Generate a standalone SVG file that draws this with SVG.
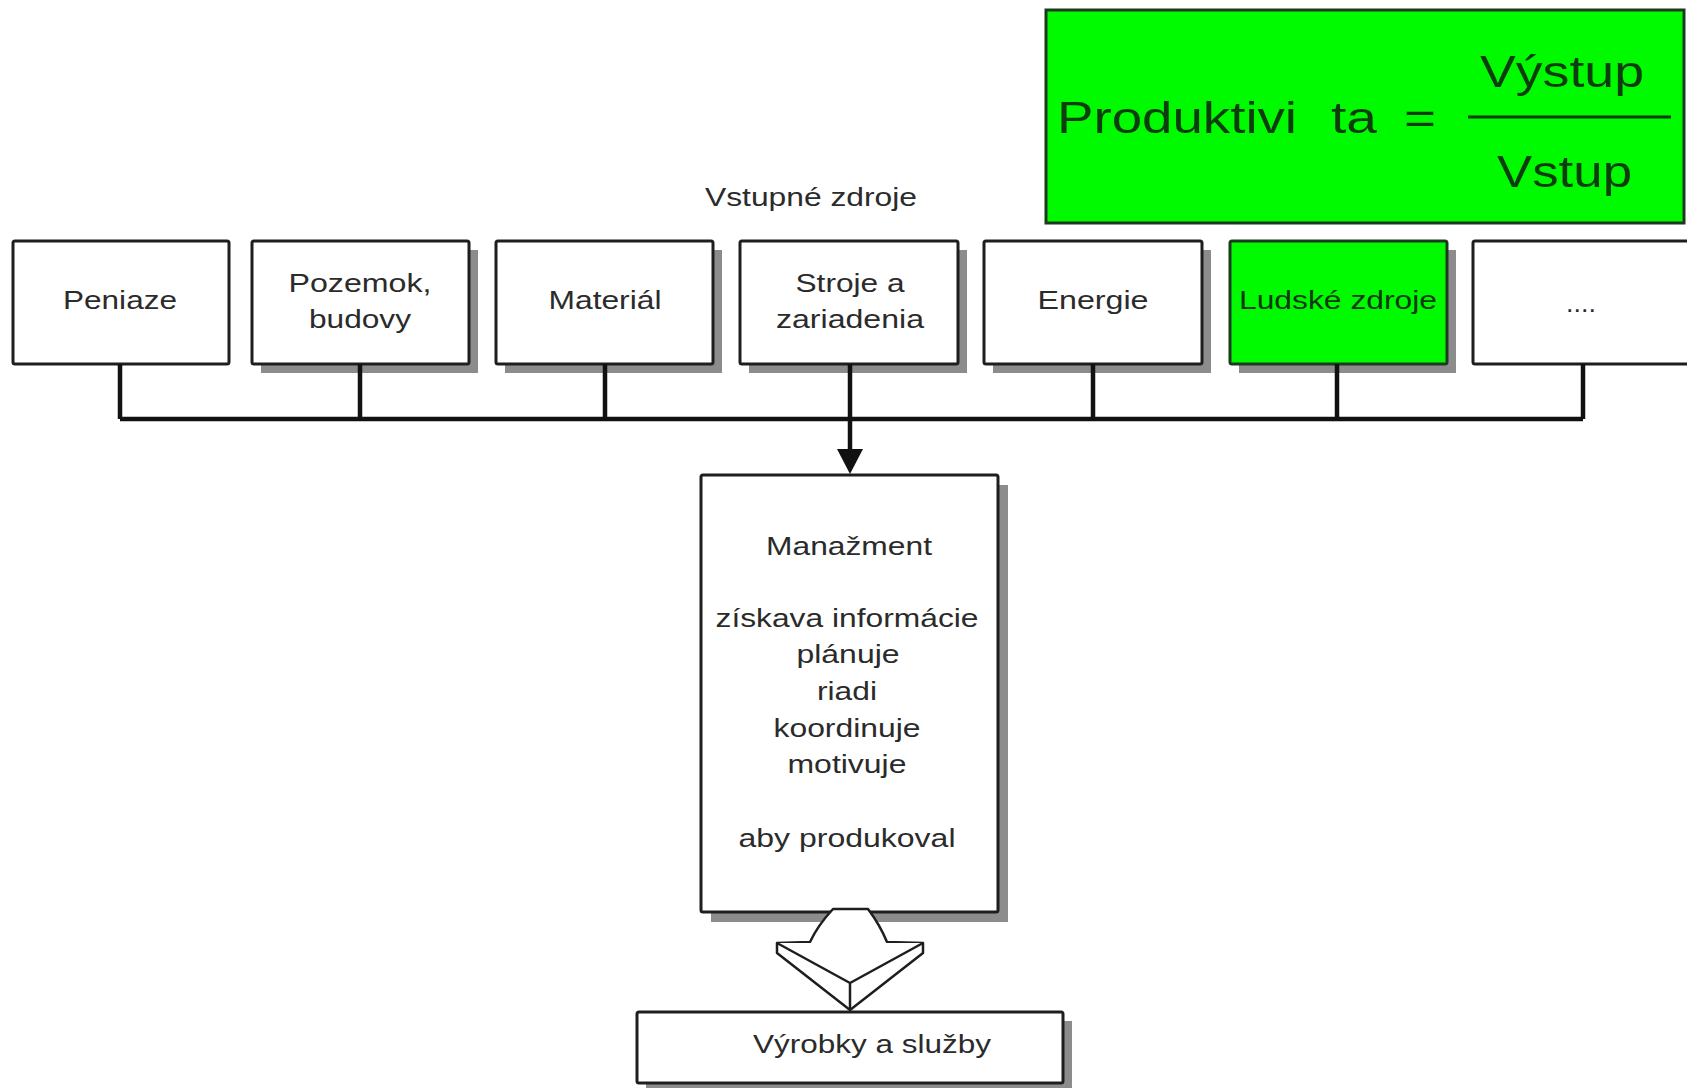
<svg xmlns="http://www.w3.org/2000/svg" width="1687" height="1088" viewBox="0 0 1687 1088">
  <style>
    .box { fill: #ffffff; stroke: #1e1e1e; stroke-width: 3; }
    .green { fill: #00fa00; stroke: #1e3a1e; stroke-width: 3; }
    .shadow { fill: #8c8c8c; }
    .lbl { font-family: "Liberation Sans", Arial, sans-serif; font-size: 26px; fill: #2b2b2b; text-anchor: middle; }
    .lbl-g { font-family: "Liberation Sans", Arial, sans-serif; font-size: 26px; fill: #123812; text-anchor: middle; }
    .formula { font-family: "Liberation Sans", Arial, sans-serif; font-size: 45px; fill: #0d3d0d; }
    .wire { fill: none; stroke: #111111; stroke-width: 4.5; }
    .block { fill: #ffffff; stroke: #1e1e1e; stroke-width: 2.5; stroke-linejoin: round; }
  </style>
  <defs>
    <marker id="ah" markerUnits="userSpaceOnUse" markerWidth="26" markerHeight="26" refX="13" refY="13" orient="auto">
      <path d="M0,0 L25,13 L0,26 Z" fill="#111111"/>
    </marker>
  </defs>

  <rect width="1687" height="1088" fill="#ffffff"/>

  <!-- productivity formula -->
  <g id="formula">
    <rect class="green" x="1046" y="10" width="638" height="213"/>
    <text class="formula" x="1057" y="133" textLength="240" lengthAdjust="spacingAndGlyphs">Produktivi</text>
    <text class="formula" x="1331" y="133" textLength="46" lengthAdjust="spacingAndGlyphs">ta</text>
    <text class="formula" x="1404" y="133" textLength="32" lengthAdjust="spacingAndGlyphs">=</text>
    <text class="formula" x="1480" y="87" textLength="164" lengthAdjust="spacingAndGlyphs">Výstup</text>
    <line x1="1468" y1="117" x2="1671" y2="117" stroke="#0d3d0d" stroke-width="3"/>
    <text class="formula" x="1497" y="187" textLength="135" lengthAdjust="spacingAndGlyphs">Vstup</text>
  </g>

  <!-- heading above the input resources -->
  <g id="inputs-title">
    <text class="lbl" x="811" y="206" font-size="25" textLength="212" lengthAdjust="spacingAndGlyphs">Vstupné zdroje</text>
  </g>

  <!-- input resources -->
  <g id="peniaze">
    <rect class="box" x="13" y="241" width="216" height="123" rx="2"/>
    <text class="lbl" x="120" y="309" textLength="114" lengthAdjust="spacingAndGlyphs">Peniaze</text>
  </g>
  <g id="pozemok">
    <rect class="shadow" x="261" y="250" width="217" height="123"/>
    <rect class="box" x="252" y="241" width="217" height="123" rx="2"/>
    <text class="lbl" x="360" y="292" textLength="143" lengthAdjust="spacingAndGlyphs">Pozemok,</text>
    <text class="lbl" x="360" y="328" textLength="102" lengthAdjust="spacingAndGlyphs">budovy</text>
  </g>
  <g id="material">
    <rect class="shadow" x="505" y="250" width="217" height="123"/>
    <rect class="box" x="496" y="241" width="217" height="123" rx="2"/>
    <text class="lbl" x="605" y="309" textLength="113" lengthAdjust="spacingAndGlyphs">Materiál</text>
  </g>
  <g id="stroje">
    <rect class="shadow" x="749" y="250" width="218" height="123"/>
    <rect class="box" x="740" y="241" width="218" height="123" rx="2"/>
    <text class="lbl" x="850" y="292" textLength="109" lengthAdjust="spacingAndGlyphs">Stroje a</text>
    <text class="lbl" x="850" y="328" textLength="148" lengthAdjust="spacingAndGlyphs">zariadenia</text>
  </g>
  <g id="energie">
    <rect class="shadow" x="993" y="250" width="218" height="123"/>
    <rect class="box" x="984" y="241" width="218" height="123" rx="2"/>
    <text class="lbl" x="1093" y="309" textLength="111" lengthAdjust="spacingAndGlyphs">Energie</text>
  </g>
  <g id="ludske-zdroje">
    <rect class="shadow" x="1239" y="250" width="217" height="123"/>
    <rect class="green" x="1230" y="241" width="217" height="123" rx="2"/>
    <text class="lbl-g" x="1338" y="309" textLength="198" lengthAdjust="spacingAndGlyphs">Ludské zdroje</text>
  </g>
  <g id="dalsie">
    <rect class="box" x="1473" y="241" width="230" height="123" rx="2"/>
    <text class="lbl" x="1581" y="312" font-size="20" fill="#777777" textLength="30" lengthAdjust="spacingAndGlyphs">....</text>
  </g>

  <!-- management -->
  <g id="manazment">
    <rect class="shadow" x="711" y="485" width="297" height="437"/>
    <rect class="box" x="701" y="475" width="297" height="437" rx="2"/>
    <text class="lbl" x="849" y="555" textLength="166" lengthAdjust="spacingAndGlyphs">Manažment</text>
    <text class="lbl" x="847" y="627" textLength="263" lengthAdjust="spacingAndGlyphs">získava informácie</text>
    <text class="lbl" x="848" y="663" textLength="103" lengthAdjust="spacingAndGlyphs">plánuje</text>
    <text class="lbl" x="847" y="700" textLength="60" lengthAdjust="spacingAndGlyphs">riadi</text>
    <text class="lbl" x="847" y="737" textLength="147" lengthAdjust="spacingAndGlyphs">koordinuje</text>
    <text class="lbl" x="847" y="773" textLength="119" lengthAdjust="spacingAndGlyphs">motivuje</text>
    <text class="lbl" x="847" y="847" textLength="217" lengthAdjust="spacingAndGlyphs">aby produkoval</text>
  </g>

  <!-- products and services -->
  <g id="vyrobky">
    <rect class="shadow" x="646" y="1021" width="426" height="71"/>
    <rect class="box" x="637" y="1012" width="426" height="71" rx="2"/>
    <text class="lbl" x="872" y="1053" textLength="238" lengthAdjust="spacingAndGlyphs">Výrobky a služby</text>
  </g>

  <!-- connectors -->
  <g id="connectors">
    <path class="wire" d="M120,364 V419 M360,364 V419 M605,364 V419 M1093,364 V419 M1337,364 V419 M1583,364 V419 M120,419 H1583"/>
    <path class="wire" d="M850,364 V462" marker-end="url(#ah)"/>
    <!-- block arrow from management to output: outline, then the bevel edges of the head -->
    <path class="block" d="M810,942 Q818,925 833,909 L868,909 Q880,925 887,942 L923,943 L923,953 L850,1010 L777,953 L777,943 Z"/>
    <path class="block" fill="none" d="M777,943 L850,983 L923,943 M850,983 V1010"/>
  </g>
</svg>
